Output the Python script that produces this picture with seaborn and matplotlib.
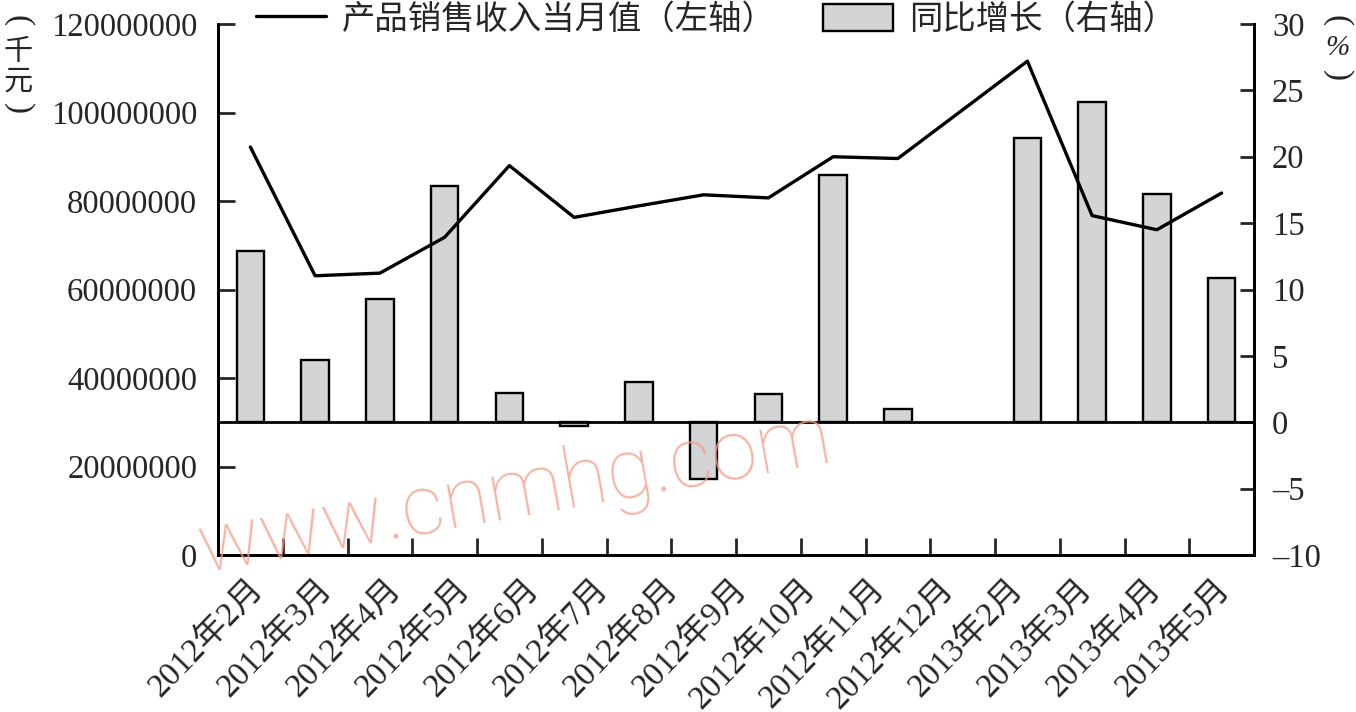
import numpy as np
import pandas as pd
import matplotlib
matplotlib.use("Agg")
import matplotlib.pyplot as plt
import seaborn as sns
from matplotlib.lines import Line2D
from matplotlib.patches import Patch
from matplotlib.ticker import FuncFormatter, FixedLocator

# monthly series; Jan 2013 is not reported (Jan+Feb combined), so it stays empty
PERIODS = ["2012年2月", "2012年3月", "2012年4月", "2012年5月", "2012年6月",
           "2012年7月", "2012年8月", "2012年9月", "2012年10月", "2012年11月",
           "2012年12月", "2013年1月", "2013年2月", "2013年3月", "2013年4月",
           "2013年5月"]
REVENUE = [92200000, 63100000, 63700000, 71800000, 88000000,
           76300000, 78900000, 81400000, 80700000, 90000000,
           89600000, np.nan, 111600000, 76700000, 73500000,
           81800000]  # 千元, left axis
YOY = [12.9, 4.7, 9.3, 17.8, 2.2,
       -0.3, 3.0, -4.3, 2.1, 18.6,
       1.0, np.nan, 21.4, 24.1, 17.2,
       10.9]  # %, right axis

LINE_LABEL = "产品销售收入当月值（左轴）"
BAR_LABEL = "同比增长（右轴）"
LEFT_TICKS = [0, 20000000, 40000000, 60000000, 80000000, 100000000, 120000000]
RIGHT_TICKS = [-10, -5, 0, 5, 10, 15, 20, 25, 30]

sns.set_theme(style="white")
plt.rcParams["font.family"] = ["Liberation Serif", "Noto Sans CJK SC", "DejaVu Sans"]
plt.rcParams["axes.edgecolor"] = "black"
plt.rcParams["axes.linewidth"] = 2

BAR_GREY = "#d3d4d6"

df = pd.DataFrame({"period": PERIODS, "revenue": REVENUE, "yoy": YOY})
df["pos"] = np.arange(len(df))

W, H = 1356, 712
fig = plt.figure(figsize=(W / 100, H / 100), dpi=100)
ax = fig.add_axes([218 / W, 1 - 555 / H, (1254 - 218) / W, (555 - 24) / H])
ax2 = ax.twinx()

sns.barplot(data=df.dropna(subset=["yoy"]), x="pos", y="yoy", native_scale=True,
            width=0.425, color=BAR_GREY, saturation=1, edgecolor="black",
            linewidth=1.7, errorbar=None, ax=ax2)
ax2.axhline(0, color="black", lw=2, zorder=3)

sns.lineplot(data=df.dropna(subset=["revenue"]), x="pos", y="revenue",
             color="black", lw=2.4, ax=ax)

# line above the bars
ax.set_zorder(ax2.get_zorder() + 1)
ax.patch.set_visible(False)

ax.set_xlim(-0.5, len(PERIODS) - 0.5)
ax.set_ylim(0, 120000000)
ax2.set_ylim(-10, 30)

ax.set_yticks(LEFT_TICKS)
ax.yaxis.set_major_formatter(FuncFormatter(lambda v, _: f"{int(v)}"))
ax2.set_yticks(RIGHT_TICKS)
ax2.yaxis.set_major_formatter(FuncFormatter(lambda v, _: f"{int(v)}".replace("-", "–")))

# 15 labels spread evenly, slot boundaries marked with small inward ticks
shown = df.dropna(subset=["yoy"])["period"].tolist()
n_slots = len(PERIODS)
label_pos = -0.58 + (np.arange(len(shown)) + 0.5) * n_slots / len(shown)
ax.set_xticks(label_pos)
ax.set_xticklabels(shown, rotation=46, ha="right", rotation_mode="anchor", fontsize=24)
ax.xaxis.set_minor_locator(FixedLocator(np.arange(0.5, n_slots - 1, 1)))
ax.tick_params(axis="x", which="major", length=0, pad=13)
ax.tick_params(axis="x", which="minor", direction="in", length=12, width=2, bottom=True)

ax.tick_params(axis="y", direction="in", length=12, width=2, labelsize=23.5, pad=15, left=True)
ax2.tick_params(axis="y", direction="in", length=10, width=2, labelsize=23.5, pad=13, right=True)

for a in (ax, ax2):
    a.set_xlabel("")
    a.set_ylabel("")
    a.spines["top"].set_visible(False)

# unit captions, stacked vertically; brackets turned a quarter so they read as arcs
SERIF = ["Liberation Serif", "DejaVu Serif"]
for txt, y in [("(", 21), ("千", 53), ("元", 83), (")", 109)]:
    fig.text(18 / W, 1 - y / H, txt, ha="center", va="center",
             rotation=-90 if txt in "()" else 0, rotation_mode="anchor",
             fontsize=24 if txt in "()" else 21,
             family=SERIF if txt in "()" else None)
for txt, y in [("(", 21), ("%", 48), (")", 76)]:
    fig.text(1337 / W, 1 - y / H, txt, ha="center", va="center",
             rotation=-90 if txt in "()" else 0, rotation_mode="anchor",
             fontsize=24 if txt in "()" else 21, family=SERIF,
             style="italic" if txt == "%" else "normal")

handles = [Line2D([], [], color="black", lw=2.4),
           Patch(facecolor=BAR_GREY, edgecolor="black", linewidth=1.7)]
fig.legend(handles, [LINE_LABEL, BAR_LABEL], loc="center",
           bbox_to_anchor=(716 / W, 1 - 20 / H), ncol=2, frameon=False,
           fontsize=24, handlelength=2.1, handleheight=0.85,
           handletextpad=0.5, columnspacing=1.4)

# site watermark
fig.text(515 / W, 1 - 494 / H, "www.cnmhg.com", rotation=10, ha="center", va="center",
         fontsize=60, color="#f2a08e", alpha=0.8, family=["Roboto", "DejaVu Sans"],
         fontweight="light", zorder=10)

fig.savefig("out.png", dpi=100)
